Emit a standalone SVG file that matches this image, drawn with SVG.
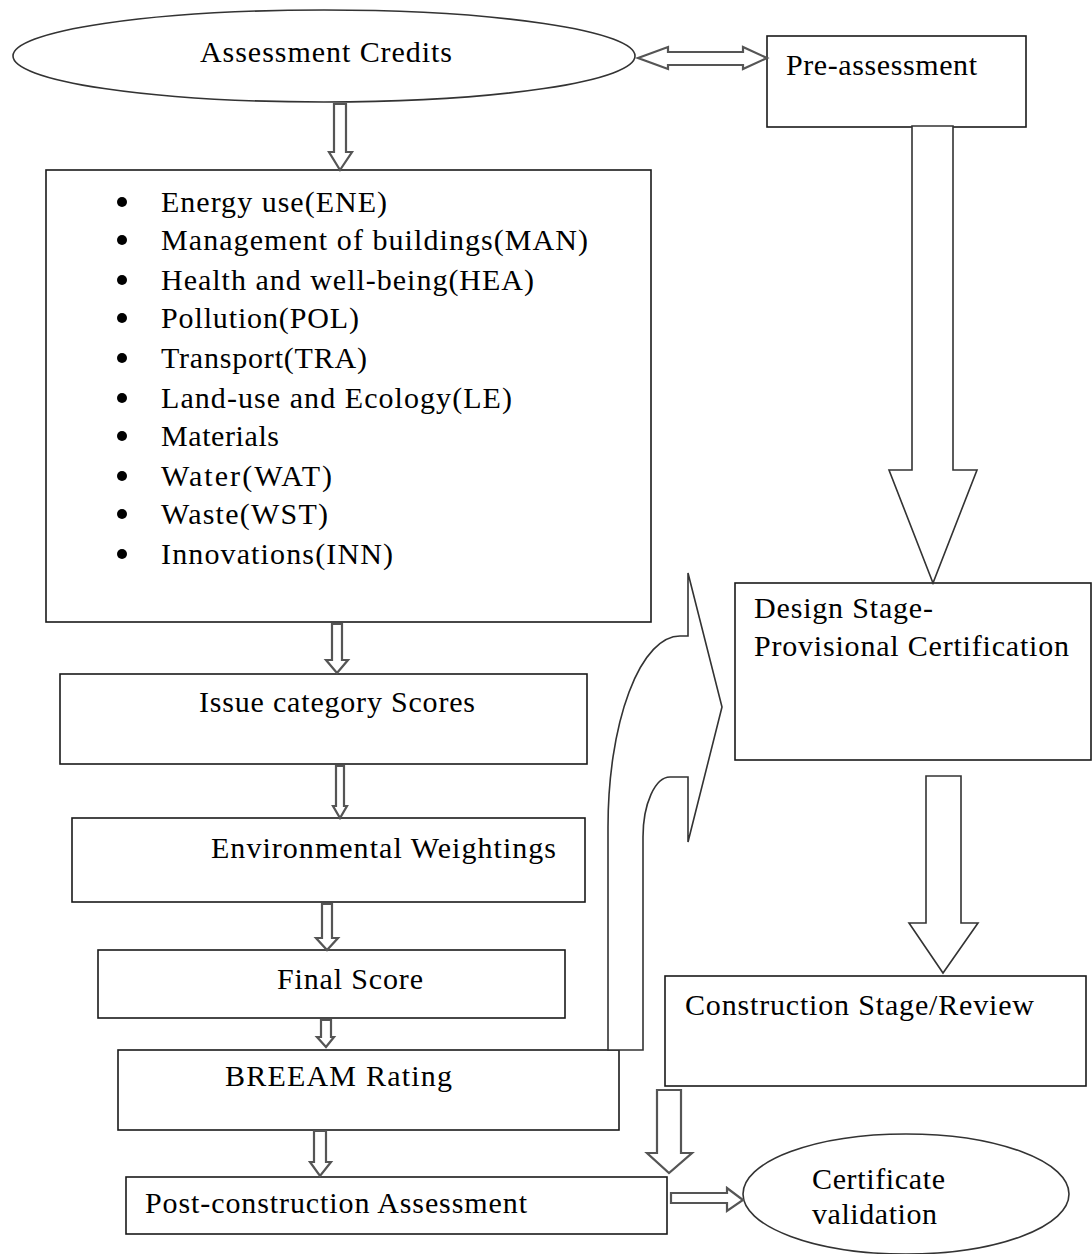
<svg xmlns="http://www.w3.org/2000/svg" width="1092" height="1254" viewBox="0 0 1092 1254">
<style>
  .box { fill: #fff; stroke: #1a1a1a; stroke-width: 1.6; }
  .ell { fill: #fff; stroke: #333; stroke-width: 1.6; }
  .t { font-family: "Liberation Serif", "Times New Roman", serif; font-size: 30px; fill: #000; }
  .arr { fill: #fff; stroke: #555; stroke-width: 2.2; stroke-linejoin: miter; }
  .big { fill: #fff; stroke: #333; stroke-width: 1.6; stroke-linejoin: miter; }
</style>
<rect width="1092" height="1254" fill="#fff"/>

<g id="assessment-credits">
  <ellipse class="ell" cx="324" cy="56" rx="311" ry="46"/>
  <text class="t" x="200" y="62" textLength="252" lengthAdjust="spacing">Assessment Credits</text>
</g>

<g id="pre-assessment">
  <rect class="box" x="767" y="36" width="259" height="91"/>
  <text class="t" x="786" y="75" textLength="191" lengthAdjust="spacing">Pre-assessment</text>
</g>

<g id="credits-list">
  <rect class="box" x="46" y="170" width="605" height="452"/>
  <g fill="#000">
    <circle cx="122" cy="202" r="5"/>
    <circle cx="122" cy="240" r="5"/>
    <circle cx="122" cy="280" r="5"/>
    <circle cx="122" cy="318" r="5"/>
    <circle cx="122" cy="358" r="5"/>
    <circle cx="122" cy="398" r="5"/>
    <circle cx="122" cy="436" r="5"/>
    <circle cx="122" cy="476" r="5"/>
    <circle cx="122" cy="514" r="5"/>
    <circle cx="122" cy="554" r="5"/>
  </g>
  <text class="t" x="161" y="212" textLength="226" lengthAdjust="spacing">Energy use(ENE)</text>
  <text class="t" x="161" y="250" textLength="427" lengthAdjust="spacing">Management of buildings(MAN)</text>
  <text class="t" x="161" y="290" textLength="373" lengthAdjust="spacing">Health and well-being(HEA)</text>
  <text class="t" x="161" y="328" textLength="198" lengthAdjust="spacing">Pollution(POL)</text>
  <text class="t" x="161" y="368" textLength="206" lengthAdjust="spacing">Transport(TRA)</text>
  <text class="t" x="161" y="408" textLength="351" lengthAdjust="spacing">Land-use and Ecology(LE)</text>
  <text class="t" x="161" y="446" textLength="118" lengthAdjust="spacing">Materials</text>
  <text class="t" x="161" y="486" textLength="171" lengthAdjust="spacing">Water(WAT)</text>
  <text class="t" x="161" y="524" textLength="167" lengthAdjust="spacing">Waste(WST)</text>
  <text class="t" x="161" y="564" textLength="232" lengthAdjust="spacing">Innovations(INN)</text>
</g>

<g id="issue-category-scores">
  <rect class="box" x="60" y="674" width="527" height="90"/>
  <text class="t" x="199" y="712" textLength="276" lengthAdjust="spacing">Issue category Scores</text>
</g>

<g id="environmental-weightings">
  <rect class="box" x="72" y="818" width="513" height="84"/>
  <text class="t" x="211" y="858" textLength="345" lengthAdjust="spacing">Environmental Weightings</text>
</g>

<g id="final-score">
  <rect class="box" x="98" y="950" width="467" height="68"/>
  <text class="t" x="277" y="989" textLength="146" lengthAdjust="spacing">Final Score</text>
</g>

<g id="breeam-rating">
  <rect class="box" x="118" y="1050" width="501" height="80"/>
  <text class="t" x="225" y="1086" textLength="227" lengthAdjust="spacing">BREEAM Rating</text>
</g>

<g id="post-construction">
  <rect class="box" x="126" y="1177" width="541" height="57"/>
  <text class="t" x="145" y="1213" textLength="382" lengthAdjust="spacing">Post-construction Assessment</text>
</g>

<g id="design-stage">
  <rect class="box" x="735" y="583" width="356" height="177"/>
  <text class="t" x="754" y="618" textLength="179" lengthAdjust="spacing">Design Stage-</text>
  <text class="t" x="754" y="656" textLength="315" lengthAdjust="spacing">Provisional Certification</text>
</g>

<g id="construction-stage">
  <rect class="box" x="665" y="976" width="421" height="110"/>
  <text class="t" x="685" y="1015" textLength="349" lengthAdjust="spacing">Construction Stage/Review</text>
</g>

<g id="certificate-validation">
  <ellipse class="ell" cx="906" cy="1194" rx="163" ry="60"/>
  <text class="t" x="812" y="1189" textLength="133" lengthAdjust="spacing">Certificate</text>
  <text class="t" x="812" y="1224" textLength="125" lengthAdjust="spacing">validation</text>
</g>

<g id="connectors">
  <polygon class="arr" points="638,58 668,47 668,52 743,52 743,47 767,58 743,69 743,65 668,65 668,69"/>
  <polygon class="arr" points="334,104 346,104 346,152 352,152 340,170 329,152 334,152"/>
  <polygon class="arr" points="332,624 342,624 342,660 348,660 337,673 326,660 332,660"/>
  <polygon class="arr" points="336,766 344,766 344,806 347,806 340,818 333,806 336,806"/>
  <polygon class="arr" points="322,904 332,904 332,938 338,938 327,950 316,938 322,938"/>
  <polygon class="arr" points="321,1020 331,1020 331,1037 334,1037 326,1047 317,1037 321,1037"/>
  <polygon class="arr" points="314,1131 326,1131 326,1162 331,1162 320,1176 310,1162 314,1162"/>
  <polygon class="big" points="912,126 953,126 953,470 977,470 933,583 889,470 912,470"/>
  <polygon class="big" points="926,776 961,776 961,923 978,923 943,973 909,923 926,923"/>
  <polygon class="arr" points="657,1090 681,1090 681,1153 692,1153 669,1173 647,1153 657,1153"/>
  <polygon class="arr" points="671,1193 727,1193 727,1188 743,1200 727,1211 727,1203 671,1203"/>
  <path class="big" d="M688,573 L722,707 L688,842 L688,777 L670,777 A27,60 0 0 0 643,837 L643,1050 L608,1050 L608,827 A72,191 0 0 1 680,636 L688,636 Z"/>
</g>
</svg>
